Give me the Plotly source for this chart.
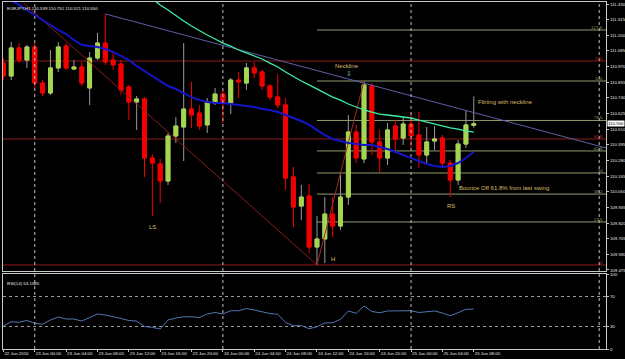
import plotly.graph_objects as go
import pandas as pd

# ---------------- data (EURJPY H1, 22 Jun 2010 20:00 .. 25 Jun 2010 08:00) ----------------
first_bar = "2010-06-22 20:00"
n_bars = 61

opens = [110.996, 110.901, 111.107, 111.018, 111.114, 110.849, 110.776, 110.960, 111.121, 110.952,
         110.967, 110.813, 111.033, 111.143, 111.018, 110.989, 110.820, 110.710, 110.732, 110.298,
         110.254, 110.129, 110.460, 110.526, 110.658, 110.629, 110.541, 110.702, 110.768, 110.702,
         110.871, 110.849, 110.960, 110.930, 110.827, 110.746, 110.688, 110.159, 109.945, 110.019,
         109.644, 109.703, 109.886, 109.798, 110.011, 110.489, 110.291, 110.827, 110.416, 110.298,
         110.533, 110.445, 110.548, 110.467, 110.320, 110.423, 110.445, 110.261, 110.136, 110.401,
         110.539]
highs = [111.033, 111.151, 111.143, 111.129, 111.143, 110.871, 111.092, 111.151, 111.143, 111.018,
         111.004, 111.077, 111.217, 111.357, 111.070, 111.018, 110.835, 110.754, 110.746, 110.328,
         110.291, 110.482, 110.599, 111.143, 110.857, 110.688, 110.739, 110.813, 110.798, 110.886,
         110.930, 110.996, 111.004, 110.945, 110.842, 110.916, 110.739, 110.232, 110.100, 110.107,
         109.872, 110.011, 110.011, 110.195, 110.614, 110.541, 110.862, 110.849, 110.504, 110.555,
         110.577, 110.599, 110.629, 110.636, 110.526, 110.533, 110.467, 110.283, 110.430, 110.644,
         110.751]
lows = [110.871, 110.871, 110.996, 110.960, 110.813, 110.754, 110.761, 110.930, 110.945, 110.945,
        110.827, 110.688, 111.018, 110.982, 110.945, 110.761, 110.577, 110.504, 110.159, 109.872,
        109.967, 110.100, 110.408, 110.276, 110.519, 110.504, 110.482, 110.688, 110.555, 110.621,
        110.739, 110.798, 110.886, 110.798, 110.724, 110.666, 110.063, 109.791, 109.842, 109.600,
        109.512, 109.526, 109.718, 109.769, 109.953, 110.261, 110.261, 110.320, 110.195, 110.247,
        110.357, 110.394, 110.372, 110.225, 110.261, 110.357, 110.232, 110.011, 110.100, 110.372,
        110.521]
closes = [110.901, 111.107, 111.018, 111.114, 110.849, 110.776, 110.960, 111.114, 110.960, 110.967,
          110.849, 111.033, 111.143, 111.004, 110.982, 110.798, 110.710, 110.732, 110.298, 110.261,
          110.129, 110.460, 110.533, 110.658, 110.614, 110.533, 110.710, 110.768, 110.702, 110.871,
          110.857, 110.960, 110.923, 110.827, 110.746, 110.688, 110.151, 109.938, 110.011, 109.644,
          109.703, 109.886, 109.798, 110.011, 110.489, 110.298, 110.835, 110.416, 110.298, 110.504,
          110.438, 110.548, 110.460, 110.320, 110.416, 110.438, 110.261, 110.136, 110.401, 110.541,
          110.550]

ma_blue = [111.489, 111.459, 111.423, 111.386, 111.349, 111.312, 111.276, 111.239, 111.209, 111.165,
           111.129, 111.121, 111.114, 111.099, 111.077, 111.048, 111.018, 110.974, 110.938, 110.901,
           110.864, 110.827, 110.805, 110.776, 110.746, 110.724, 110.710, 110.702, 110.702, 110.695,
           110.688, 110.680, 110.673, 110.658, 110.651, 110.636, 110.614, 110.592, 110.570, 110.541,
           110.504, 110.467, 110.438, 110.423, 110.408, 110.401, 110.394, 110.394, 110.379, 110.364,
           110.342, 110.320, 110.298, 110.276, 110.254, 110.239, 110.232, 110.239, 110.261, 110.298,
           110.342]
ma_mint = [None] * 18 + [
           111.511, 111.467, 111.423, 111.386, 111.342, 111.305, 111.268, 111.232, 111.202, 111.173,
           111.143, 111.121, 111.092, 111.070, 111.048, 111.026, 110.996, 110.967, 110.930, 110.894,
           110.864, 110.835, 110.805, 110.776, 110.746, 110.724, 110.695, 110.673, 110.651, 110.636,
           110.621, 110.614, 110.607, 110.599, 110.592, 110.577, 110.563, 110.548, 110.533, 110.519,
           110.511, 110.497, 110.489]

rsi = [30.7, 36.4, 35.6, 38.0, 34.3, 33.0, 38.7, 42.7, 40.0, 40.0,
       37.3, 42.3, 46.7, 45.3, 43.3, 40.7, 38.0, 37.3, 30.0, 28.9,
       26.7, 38.7, 41.3, 43.0, 43.0, 42.0, 46.7, 48.7, 46.7, 51.0,
       51.0, 54.0, 52.0, 49.3, 47.3, 46.3, 35.3, 31.0, 31.3, 27.0,
       29.7, 34.7, 35.0, 39.6, 50.7, 47.6, 57.3, 50.0, 48.4, 50.7,
       51.0, 51.0, 51.0, 48.7, 50.0, 50.7, 48.0, 44.4, 48.4, 53.0,
       53.17]
rsi_last_text = "53.1685"

price_ticks = [111.430, 111.315, 111.200, 111.085, 110.970, 110.855, 110.740, 110.625, 110.510,
               110.395, 110.280, 110.165, 110.050, 109.935, 109.820, 109.705, 109.590, 109.475]
rsi_ticks = [0, 30, 70, 100]
day_separators = ["2010-06-23 00:00", "2010-06-24 00:00", "2010-06-25 00:00", "2010-06-26 00:00"]

# Fibonacci (green) drawn from the H low to the neckline top
fib_start = "2010-06-24 12:00"
fib_labels = ["0", "23.6", "38.2", "50", "61.8", "78.6", "100", "127.6"]
fib_prices = [109.512, 109.828, 110.033, 110.188, 110.350, 110.574, 110.864, 111.239]
# red horizontal levels
red_labels = ["100", "61.8", "0"]
red_prices = [111.011, 110.438, 109.512]

# trend lines
neck_t = ["2010-06-23 09:00", "2010-06-26 00:52"]
neck_p = [111.357, 110.372]
diag_t = ["2010-06-22 22:37", "2010-06-24 12:00"]
diag_p = [111.434, 109.512]
zig_t = ["2010-06-24 12:00", "2010-06-24 18:00"]
zig_p = [109.512, 110.862]

x_range = ["2010-06-22 19:57", "2010-06-26 00:52"]
y_range = [109.4676, 111.4447]
current_price = 110.550

times = pd.date_range(first_bar, periods=n_bars, freq="h")
tick_times = pd.date_range(first_bar, "2010-06-25 08:00", freq="4h")
tick_text = ["22 Jun 2010"] + [t.strftime("%d %b %H:%M") for t in tick_times[1:]]

# ---------------- styling ----------------
UP = "#A6D64E"
UP_WICK = "#9A9A9A"
DOWN = "#F20000"
RED_LINE = "#8E1B1B"
FIB = "#8E9C6C"
BORDER = "#C8C8C8"
TXT = "#E8E8E8"
ANNO = "#D9BC6A"
FONT = "Liberation Sans"
AX_FS = 4.4

fig = go.Figure()

# trend lines (behind candles)
fig.add_trace(go.Scatter(x=neck_t, y=neck_p, mode="lines", line=dict(color="#5E5EA8", width=1),
                         hoverinfo="skip", showlegend=False))
fig.add_trace(go.Scatter(x=diag_t, y=diag_p, mode="lines", line=dict(color=RED_LINE, width=1),
                         hoverinfo="skip", showlegend=False))
fig.add_trace(go.Scatter(x=zig_t, y=zig_p, mode="lines", line=dict(color="#A02A2A", width=1),
                         hoverinfo="skip", showlegend=False))

# candles: wicks, then bodies
fig.add_trace(go.Candlestick(
    x=times, open=opens, high=highs, low=lows, close=closes,
    increasing=dict(line=dict(color=UP_WICK, width=1), fillcolor=UP),
    decreasing=dict(line=dict(color=DOWN, width=1), fillcolor=DOWN),
    hoverinfo="skip", showlegend=False))
body_hi = [max(o, c) for o, c in zip(opens, closes)]
body_lo = [min(o, c) for o, c in zip(opens, closes)]
fig.add_trace(go.Candlestick(
    x=times, open=opens, high=body_hi, low=body_lo, close=closes,
    increasing=dict(line=dict(color=UP, width=1), fillcolor=UP),
    decreasing=dict(line=dict(color=DOWN, width=1), fillcolor=DOWN),
    hoverinfo="skip", showlegend=False))

# moving averages
fig.add_trace(go.Scatter(x=times, y=ma_mint, mode="lines", line=dict(color="#3DEFA6", width=1.3),
                         hoverinfo="skip", showlegend=False))
fig.add_trace(go.Scatter(x=times, y=ma_blue, mode="lines", line=dict(color="#1414C8", width=2),
                         hoverinfo="skip", showlegend=False))

# RSI
fig.add_trace(go.Scatter(x=times, y=rsi, mode="lines", line=dict(color="#5177B0", width=1),
                         xaxis="x2", yaxis="y2", hoverinfo="skip", showlegend=False))

shapes = []
for d in day_separators:
    shapes.append(dict(type="line", xref="x", yref="paper", x0=d, x1=d, y0=0, y1=1,
                       line=dict(color="#BDBDBD", width=1, dash="dot"), layer="above"))
for p in red_prices:
    shapes.append(dict(type="line", xref="paper", yref="y", x0=0, x1=1, y0=p, y1=p,
                       line=dict(color=RED_LINE, width=1), layer="below"))
for lab, p in zip(fib_labels, fib_prices):
    if lab == "0":
        continue
    shapes.append(dict(type="line", xref="x", yref="y", x0=fib_start, x1=x_range[1], y0=p, y1=p,
                       line=dict(color=FIB, width=1), layer="below"))

annotations = []
for lab, p in zip(fib_labels, fib_prices):
    if lab == "0":
        continue
    annotations.append(dict(x=1, xref="paper", y=p, yref="y", text=lab, showarrow=False,
                            xanchor="right", yanchor="bottom", xshift=-1, yshift=-2,
                            font=dict(size=AX_FS, color=FIB, family=FONT)))
for lab, p in zip(red_labels, red_prices):
    annotations.append(dict(x=1, xref="paper", y=p, yref="y", text=lab, showarrow=False,
                            xanchor="right", yanchor="bottom", xshift=-1, yshift=-2,
                            font=dict(size=AX_FS, color="#C03030", family=FONT)))

annotations += [
    dict(x=1, xref="paper", y=current_price, yref="y", text=f"{current_price:.3f}", showarrow=False,
         xanchor="left", yanchor="middle", xshift=1, bgcolor="#FFFFFF", borderpad=0,
         font=dict(size=AX_FS, color="#000000", family=FONT)),
    dict(x=0, xref="paper", y=1, yref="paper", xanchor="left", yanchor="top", xshift=2, yshift=-2,
         text=f"EURJPY,H1 {opens[-1]:.3f} {highs[-1]:.3f} {lows[-1]:.3f} {closes[-1]:.3f}",
         showarrow=False, font=dict(size=AX_FS, color=TXT, family=FONT)),
    dict(x=0, xref="paper", y=88, yref="y2", xanchor="left", yanchor="middle", xshift=2,
         text=f"RSI(14) {rsi_last_text}", showarrow=False,
         font=dict(size=AX_FS, color=TXT, family=FONT)),
    dict(x="2010-06-24 15:50", y=110.971, text="Neckline", showarrow=False,
         font=dict(size=6, color=ANNO, family=FONT)),
    dict(x="2010-06-24 16:05", y=110.918, text="⇩", showarrow=False,
         font=dict(size=7, color="#6FD0D0", family=FONT)),
    dict(x="2010-06-25 08:18", y=110.712, text="Flirting with neckline", showarrow=False,
         xanchor="left", font=dict(size=6, color=ANNO, family=FONT)),
    dict(x="2010-06-25 05:53", y=110.078, text="Bounce Off 61.8% from last swing", showarrow=False,
         xanchor="left", font=dict(size=6, color=ANNO, family=FONT)),
    dict(x="2010-06-25 05:07", y=109.945, text="RS", showarrow=False,
         font=dict(size=6, color=ANNO, family=FONT)),
    dict(x="2010-06-23 15:00", y=109.791, text="LS", showarrow=False,
         font=dict(size=6, color=ANNO, family=FONT)),
    dict(x="2010-06-24 14:00", y=109.556, text="H", showarrow=False,
         font=dict(size=6, color=ANNO, family=FONT)),
]

axis_common = dict(showgrid=False, zeroline=False, showline=True, mirror=True,
                   linecolor=BORDER, linewidth=1, automargin=False)

fig.update_layout(
    width=625, height=359,
    margin=dict(l=3, r=19, t=2, b=10),
    paper_bgcolor="#000000", plot_bgcolor="#000000",
    font=dict(family=FONT, size=AX_FS, color=TXT),
    showlegend=False,
    xaxis=dict(domain=[0, 1], anchor="y", type="date", range=x_range, showticklabels=False,
               ticks="", rangeslider=dict(visible=False), **axis_common),
    yaxis=dict(domain=[0.2248, 1], anchor="x", side="right", range=y_range,
               tickvals=price_ticks, ticktext=[f"{v:.3f}" for v in price_ticks],
               ticks="outside", ticklen=2, tickcolor=BORDER,
               tickfont=dict(size=AX_FS, color=TXT, family=FONT), **axis_common),
    xaxis2=dict(domain=[0, 1], anchor="y2", type="date", range=x_range, matches="x",
                tickvals=list(tick_times), ticktext=tick_text, ticklabelposition="outside right",
                tickangle=0, ticks="outside", ticklen=2, tickcolor=BORDER,
                tickfont=dict(size=AX_FS, color=TXT, family=FONT),
                rangeslider=dict(visible=False), **axis_common),
    yaxis2=dict(domain=[0, 0.2161], anchor="x2", side="right", range=[0, 100],
                tickvals=rsi_ticks, ticktext=[str(v) for v in rsi_ticks],
                ticks="outside", ticklen=2, tickcolor=BORDER,
                tickfont=dict(size=AX_FS, color=TXT, family=FONT),
                showline=True, mirror=True, linecolor=BORDER, linewidth=1, zeroline=False,
                automargin=False, showgrid=True, gridcolor="#9A9A9A", griddash="dot", gridwidth=1),
    shapes=shapes,
    annotations=annotations,
)

fig.write_html("out.html")
